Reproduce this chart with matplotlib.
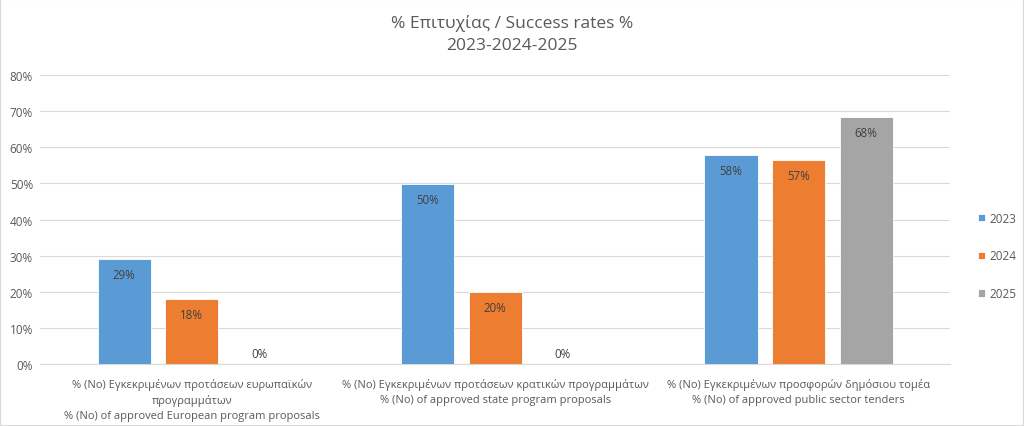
import matplotlib
matplotlib.use("Agg")
import matplotlib.pyplot as plt
import numpy as np
from matplotlib.patches import Rectangle

categories = [
    "% (No) Εγκεκριμένων προτάσεων ευρωπαϊκών\nπρογραμμάτων\n% (No) of approved European program proposals",
    "% (No) Εγκεκριμένων προτάσεων κρατικών προγραμμάτων\n% (No) of approved state program proposals",
    "% (No) Εγκεκριμένων προσφορών δημόσιου τομέα\n% (No) of approved public sector tenders",
]
years = ["2023", "2024", "2025"]
v2023 = [29.2, 49.9, 57.9]
v2024 = [18.0, 20.0, 56.6]
v2025 = [0.0, 0.0, 68.4]
yticks = [0, 10, 20, 30, 40, 50, 60, 70, 80]

series = [v2023, v2024, v2025]
colors = ["#5B9BD5", "#ED7D31", "#A5A5A5"]

plt.rcParams['font.family'] = ['Open Sans', 'DejaVu Sans']
fig = plt.figure(figsize=(10.24, 4.27), dpi=100)
fig.patch.set_facecolor("white")
fig.add_artist(Rectangle((0, 0), 1, 1, transform=fig.transFigure, fill=False,
                         edgecolor="#D9D9D9", linewidth=1.5))
ax = fig.add_axes([0.039, 0.145, 0.889, 0.677])

x = np.arange(len(categories))
width = 0.175
step = 0.2225
for i, (vals, c, yr) in enumerate(zip(series, colors, years)):
    pos = x + (i - 1) * step
    ax.bar(pos, vals, width, color=c, label=yr, edgecolor="white", linewidth=0.6, zorder=3)
    for p, v in zip(pos, vals):
        txt = f"{round(v):.0f}%"
        if v > 5:
            ax.annotate(txt, (p, v), xytext=(0, -16), textcoords="offset points",
                        ha="center", va="bottom", fontsize=8.3, color="#404040", zorder=4)
        else:
            ax.annotate(txt, (p, v), xytext=(0, 3), textcoords="offset points",
                        ha="center", va="bottom", fontsize=8.3, color="#404040", zorder=4)

ax.set_xlim(-0.5, 2.5)
ax.set_ylim(0, 80)
ax.set_yticks(yticks)
ax.set_yticklabels([f"{t}%" for t in yticks], fontsize=8.5, color="#595959")
ax.set_xticks(x)
ax.set_xticklabels(categories, fontsize=8, color="#595959", linespacing=1.45)
ax.tick_params(axis="both", length=0)
ax.tick_params(axis="y", pad=5)
ax.tick_params(axis="x", pad=10)
ax.grid(axis="y", color="#D9D9D9", linewidth=0.8, zorder=0)
for s in ["top", "right", "left"]:
    ax.spines[s].set_visible(False)
ax.spines["bottom"].set_color("#D9D9D9")
ax.spines["bottom"].set_linewidth(0.8)

fig.suptitle("% Επιτυχίας / Success rates %\n2023-2024-2025", y=0.965, fontsize=12.5,
             color="#595959", linespacing=1.5)

leg = ax.legend(loc="center left", bbox_to_anchor=(1.025, 0.374), frameon=False,
                fontsize=8.5, handlelength=0.6, handleheight=0.6, labelspacing=2.1,
                handletextpad=0.4, borderaxespad=0)
for t in leg.get_texts():
    t.set_color("#595959")

fig.savefig("out.png", dpi=100)
